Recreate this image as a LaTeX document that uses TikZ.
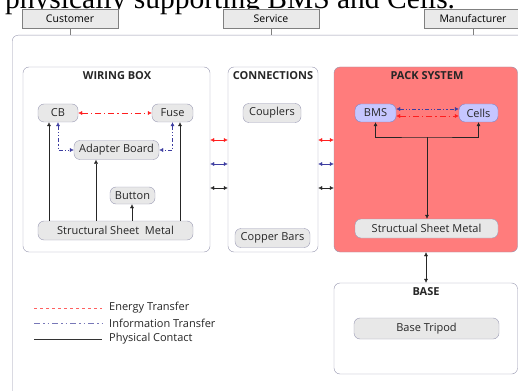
\documentclass[tikz,border=0pt]{standalone}
\usepackage{fontspec}
\setmainfont{Open Sans}
\newfontfamily\capfont{Liberation Serif}
\usetikzlibrary{arrows.meta}

\definecolor{hdrline}{HTML}{808080}
\definecolor{hdrfill}{HTML}{EAEAEA}
\definecolor{grpline}{HTML}{9595AE}
\definecolor{partline}{HTML}{9A9AB4}
\definecolor{partfill}{HTML}{E8E8E8}
\definecolor{packfill}{HTML}{FF7C7C}
\definecolor{bmsfill}{HTML}{C6C6FF}
\definecolor{bmsline}{HTML}{8080C0}
\definecolor{enred}{HTML}{FF1E1E}
\definecolor{infblue}{HTML}{3C3CA0}
\definecolor{legred}{HTML}{FF6060}
\definecolor{legblue}{HTML}{7878B8}

\tikzset{
  header/.style={draw=hdrline, fill=hdrfill, minimum height=19pt, inner sep=0pt, font=\fontsize{10.5}{12}\selectfont},
  group/.style={draw=grpline, rounded corners=6pt, inner sep=0pt},
  part/.style={draw=partline, fill=partfill, rounded corners=6pt, inner sep=0pt, minimum height=18pt, text=black!85, font=\fontsize{11}{12}\selectfont},
  chip/.style={part, draw=bmsline, fill=bmsfill},
  grptitle/.style={font=\bfseries\fontsize{11}{12}\selectfont, text=black!85, inner sep=0pt},
  energy/.style={enred, <->, >={Latex[length=4pt,width=4pt]}, dash pattern=on 6pt off 3pt on 1.2pt off 3pt},
  info/.style={infblue, <->, >={Latex[length=4pt,width=4pt]}, dash pattern=on 4pt off 2pt on 1.2pt off 2pt on 1.2pt off 2pt},
  phys/.style={black!85, >={Latex[length=4pt,width=4pt]}},
  legtext/.style={anchor=west, inner sep=0pt, text=black!85, font=\fontsize{11}{12}\selectfont}
}

\begin{document}
\begin{tikzpicture}[x=1pt, y=-1pt]
\clip (0,0) rectangle (518,390);

% caption cut off at the top
\node[anchor=base west, inner sep=0pt, font=\capfont\fontsize{29.5}{30}\selectfont] (cap) at (5,9) {physically supporting BMS and Cells.};

% stakeholders
\node[header, minimum width=96pt] (cust) at (70,18.5) {Customer};
\node[header, minimum width=96pt] (serv) at (271,18.5) {Service};
\node[header, minimum width=98pt] (manu) at (473,18.5) {Manufacturer};

\node[group, minimum width=540pt, minimum height=400pt, anchor=north west] (outer) at (12,35) {};
\foreach \h in {cust,serv,manu}
  \draw[hdrline] (\h.south) -- (\h.south |- outer.north);

% wiring box
\node[group, minimum width=187pt, minimum height=185pt] (wbox) at (116.5,159.5) {};
\node[grptitle] (wtitle) at (117,76) {WIRING BOX};
\node[part, minimum width=40pt] (cb) at (58,113) {CB};
\node[part, minimum width=41pt] (fuse) at (172.5,113) {Fuse};
\node[part, minimum width=85pt, minimum height=19pt] (adapter) at (116.5,150) {Adapter Board};
\node[part, minimum width=45pt, minimum height=17pt] (button) at (132.5,195.5) {Button};
\node[part, minimum width=155pt, minimum height=19pt] (ssm1) at (115.5,230.5) {Structural Sheet~ Metal};

\draw[energy] (cb.east) -- (fuse.west);
\draw[info] (cb.south) |- (adapter.west);
\draw[info] (fuse.south) |- (adapter.east);
\draw[phys,->] (ssm1.north -| 49,0) -- (49,0 |- cb.south);
\draw[phys,->] (ssm1.north -| 96,0) -- (96,0 |- adapter.south);
\draw[phys,->] (ssm1.north -| 132,0) -- (132,0 |- button.south);
\draw[phys,->] (ssm1.north -| 180,0) -- (180,0 |- fuse.south);

% connections
\node[group, minimum width=90pt, minimum height=185pt] (cbox) at (273,159.5) {};
\node[grptitle] (ctitle) at (273,76) {CONNECTIONS};
\node[part, minimum width=58pt, minimum height=19pt] (couplers) at (272,113) {Couplers};
\node[part, minimum width=75pt, minimum height=19pt] (copper) at (272.5,238) {Copper Bars};

% pack system
\node[group, fill=packfill, minimum width=183.5pt, minimum height=185pt] (pack) at (425.75,159.5) {};
\node[grptitle] (ptitle) at (427,76) {PACK SYSTEM};
\node[chip, minimum width=41pt] (bms) at (375.5,113) {BMS};
\node[chip, minimum width=39pt] (cells) at (478.5,113) {Cells};
\node[part, minimum width=143pt, minimum height=19pt] (ssm2) at (426.5,228.5) {Structual Sheet Metal};

\draw[info] (bms.east |- 0,109) -- (cells.west |- 0,109);
\draw[energy] (bms.east |- 0,116) -- (cells.west |- 0,116);
\coordinate (pj) at (427,137);
\draw[phys,<->] (bms.south) |- (pj) -| (cells.south);
\draw[phys,->] (pj) -- (pj |- ssm2.north);

% links between the groups
\foreach \a/\b in {wbox/cbox,cbox/pack}{
  \draw[energy, solid] (\a.east |- 0,140) -- (\b.west |- 0,140);
  \draw[info, solid] (\a.east |- 0,164) -- (\b.west |- 0,164);
  \draw[phys,<->] (\a.east |- 0,188) -- (\b.west |- 0,188);
}

% base
\node[group, fill=white, minimum width=183.5pt, minimum height=91pt] (base) at (425.75,328.5) {};
\node[grptitle] (btitle) at (426,292) {BASE};
\node[part, minimum width=145pt, minimum height=21pt] (tripod) at (426.5,328.5) {Base Tripod};
\draw[phys,<->] (pack.south -| 426,0) -- (base.north -| 426,0);

% legend
\node[legtext] (lenergy) at (109,308) {Energy Transfer};
\node[legtext] (linfo) at (109,323) {Information Transfer};
\node[legtext] (lphys) at (109,339) {Physical Contact};
\draw[legred, dashed, thick] (34,308) -- (102,308);
\draw[legblue, thick, dash pattern=on 6pt off 3pt on 1.5pt off 3pt on 1.5pt off 3pt] (34,323) -- (102,323);
\draw[black!80] (34,339) -- (102,339);
\end{tikzpicture}
\end{document}
